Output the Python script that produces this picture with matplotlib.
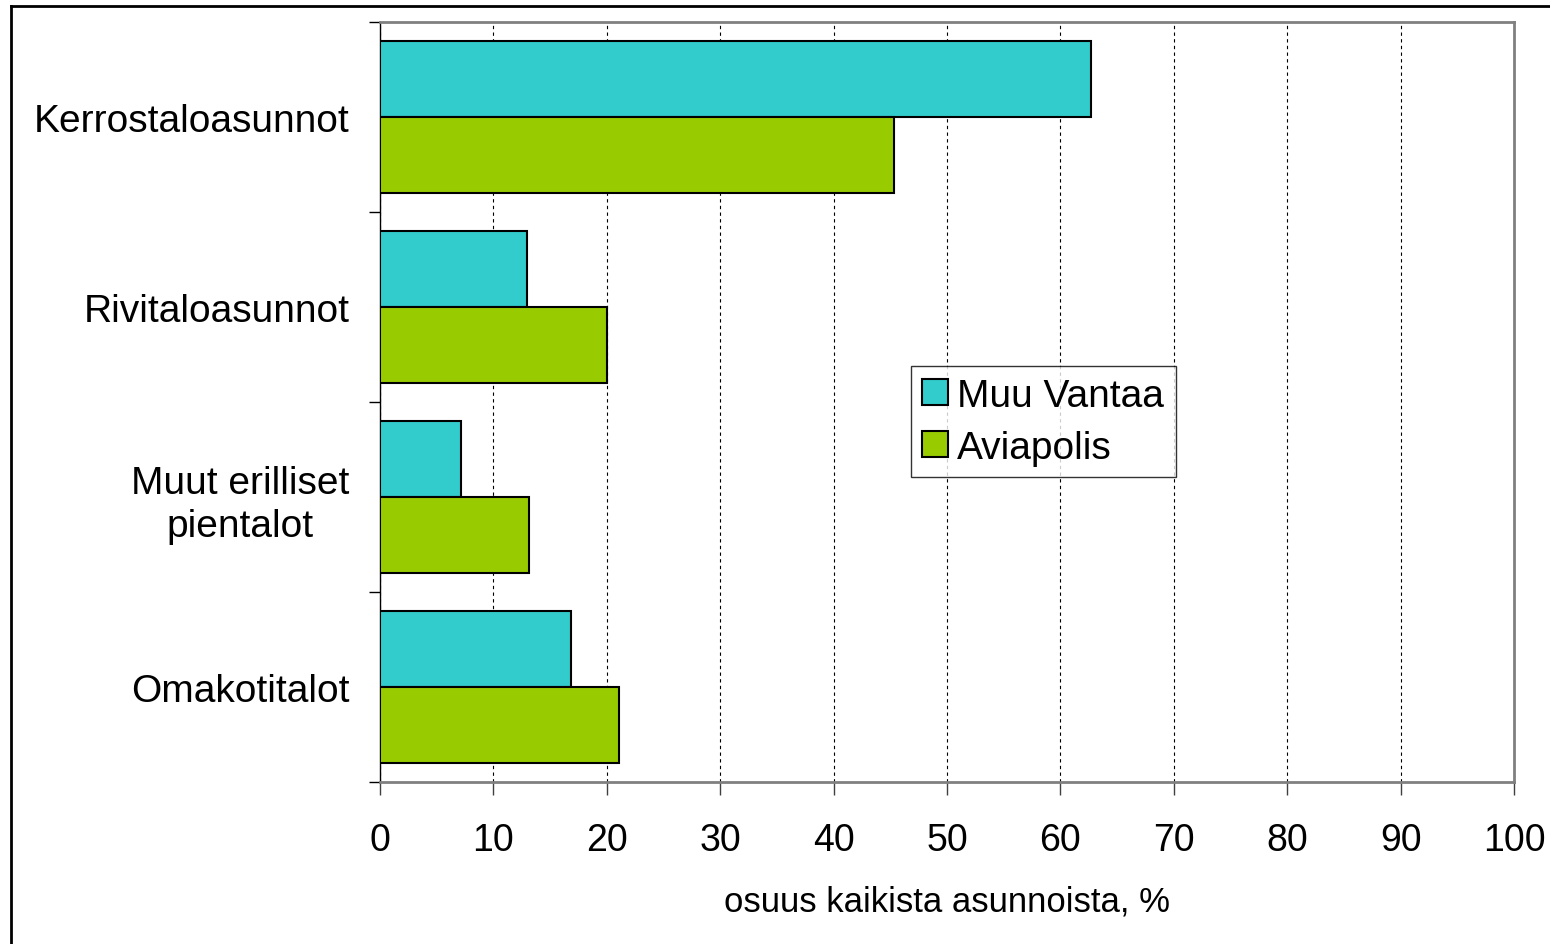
import matplotlib.pyplot as plt
import numpy as np
from matplotlib.lines import Line2D

plt.rcParams['font.family'] = ['Liberation Sans', 'DejaVu Sans']

categories = ['Kerrostaloasunnot', 'Rivitaloasunnot', 'Muut erilliset\npientalot', 'Omakotitalot']
muu_vantaa = [62.7, 13.0, 7.1, 16.8]
aviapolis = [45.3, 20.0, 13.1, 21.1]

COLOR_MUU = '#33CCCC'
COLOR_AVIA = '#99CC00'

fig = plt.figure(figsize=(15.5, 9.45), dpi=100)
ax = fig.add_axes([380 / 1550, 1 - 783 / 945, 1134 / 1550, 760 / 945])

y = np.arange(len(categories))
h = 0.4
ax.barh(y - h / 2, muu_vantaa, height=h, color=COLOR_MUU, edgecolor='black', linewidth=1.5,
        label='Muu Vantaa', zorder=3)
ax.barh(y + h / 2, aviapolis, height=h, color=COLOR_AVIA, edgecolor='black', linewidth=1.5,
        label='Aviapolis', zorder=3)

ax.set_xlim(0, 100)
ax.set_ylim(len(categories) - 0.5, -0.5)
ax.set_xticks(np.arange(0, 101, 10))
ax.tick_params(axis='x', labelsize=27, length=9, width=1, color='#404040', pad=20, direction='out')
ax.grid(axis='x', color='black', linestyle=(0, (3, 3)), linewidth=0.8, zorder=1)

ax.set_yticks(y)
ax.set_yticklabels(categories)
ax.set_yticks(np.arange(-0.5, len(categories)), minor=True)
ax.tick_params(axis='y', which='major', length=0, labelsize=28, pad=22)
ax.tick_params(axis='y', which='minor', length=8, width=1, color='black', direction='out')
for lbl in ax.get_yticklabels():
    lbl.set_multialignment('center')
    lbl.set_linespacing(1.25)

for side in ['top', 'right', 'bottom']:
    ax.spines[side].set_color('#808080')
    ax.spines[side].set_linewidth(2)
ax.spines['left'].set_color('black')
ax.spines['left'].set_linewidth(1)

ax.set_xlabel('osuus kaikista asunnoista, %', fontsize=25, labelpad=19)

leg = ax.legend(loc='upper left', bbox_to_anchor=(0.468, 0.547), fontsize=28, frameon=True,
                fancybox=False, edgecolor='black', handlelength=0.65, handleheight=0.65,
                handletextpad=0.25, borderpad=0.3, labelspacing=0.4, borderaxespad=0)
leg.get_frame().set_linewidth(1)

# figure frame (left and top edges visible)
fig.add_artist(Line2D([11 / 1550, 11 / 1550], [0, 1 - 7 / 945], color='black', linewidth=2,
                      transform=fig.transFigure))
fig.add_artist(Line2D([11 / 1550, 1], [1 - 7 / 945, 1 - 7 / 945], color='black', linewidth=2,
                      transform=fig.transFigure))

fig.savefig('out.png', dpi=100)
